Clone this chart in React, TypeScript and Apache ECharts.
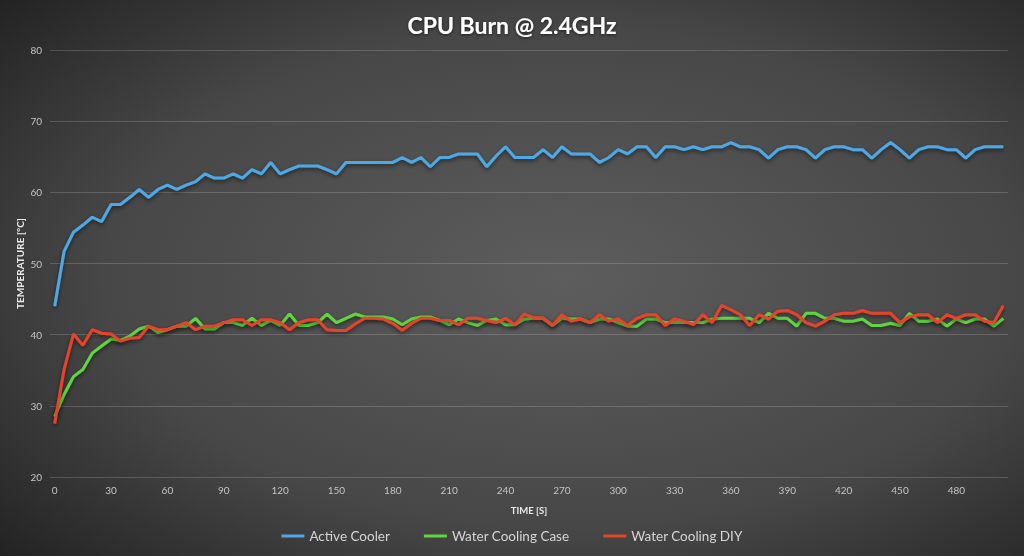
import React, { useEffect, useRef } from "react";
import * as echarts from "echarts";

const times: number[] = [
  0, 5, 10, 15, 20, 25, 30, 35, 40, 45, 50, 55, 60, 65, 70, 75, 80, 85, 90, 95,
  100, 105, 110, 115, 120, 125, 130, 135, 140, 145, 150, 155, 160, 165, 170, 175, 180, 185, 190, 195,
  200, 205, 210, 215, 220, 225, 230, 235, 240, 245, 250, 255, 260, 265, 270, 275, 280, 285, 290, 295,
  300, 305, 310, 315, 320, 325, 330, 335, 340, 345, 350, 355, 360, 365, 370, 375, 380, 385, 390, 395,
  400, 405, 410, 415, 420, 425, 430, 435, 440, 445, 450, 455, 460, 465, 470, 475, 480, 485, 490, 495,
  500, 505,
];

const activeCooler: number[] = [
  44.0, 51.7, 54.4, 55.4, 56.5, 55.9, 58.3, 58.3, 59.3, 60.4, 59.3, 60.4, 61.0, 60.4, 61.0, 61.5, 62.6, 62.0, 62.0, 62.6,
  62.0, 63.2, 62.6, 64.2, 62.6, 63.2, 63.7, 63.7, 63.7, 63.2, 62.6, 64.2, 64.2, 64.2, 64.2, 64.2, 64.2, 64.9, 64.2, 64.9,
  63.6, 64.9, 64.9, 65.4, 65.4, 65.4, 63.6, 65.1, 66.4, 64.9, 64.9, 64.9, 66.0, 64.9, 66.4, 65.4, 65.4, 65.4, 64.2, 64.9,
  66.0, 65.4, 66.4, 66.4, 64.9, 66.4, 66.4, 66.0, 66.4, 66.0, 66.4, 66.4, 67.0, 66.4, 66.4, 66.0, 64.8, 66.0, 66.4, 66.4,
  66.0, 64.8, 66.0, 66.4, 66.4, 66.0, 66.0, 64.8, 66.0, 67.0, 66.0, 64.8, 66.0, 66.4, 66.4, 66.0, 66.0, 64.8, 66.0, 66.4,
  66.4, 66.4,
];

const waterCoolingCase: number[] = [
  28.5, 31.6, 34.1, 35.1, 37.4, 38.4, 39.4, 39.2, 39.8, 40.8, 41.2, 40.3, 40.7, 41.2, 41.2, 42.3, 40.8, 40.8, 41.7, 41.7,
  41.3, 42.3, 41.3, 42.0, 41.3, 42.9, 41.3, 41.3, 41.7, 42.9, 41.7, 42.3, 42.9, 42.5, 42.5, 42.5, 42.2, 41.4, 42.2, 42.5,
  42.5, 42.0, 41.4, 42.2, 41.7, 41.3, 42.0, 42.2, 41.4, 41.4, 42.2, 42.3, 42.3, 41.3, 42.3, 42.2, 42.2, 41.7, 42.2, 42.2,
  41.7, 41.2, 41.2, 42.2, 42.2, 41.7, 41.7, 41.7, 41.7, 41.7, 42.2, 42.3, 42.3, 42.3, 42.3, 41.7, 43.0, 42.3, 42.3, 41.2,
  43.0, 43.0, 42.3, 42.3, 41.9, 41.9, 42.2, 41.3, 41.3, 41.6, 41.3, 43.0, 41.9, 41.9, 42.2, 41.2, 42.2, 41.7, 42.2, 42.2,
  41.2, 42.3,
];

const waterCoolingDIY: number[] = [
  27.5, 35.1, 40.1, 38.5, 40.7, 40.2, 40.1, 39.1, 39.5, 39.6, 41.2, 40.7, 40.7, 41.2, 41.7, 40.7, 41.2, 41.2, 41.7, 42.1,
  42.1, 41.3, 42.1, 42.1, 41.7, 40.7, 41.7, 42.1, 42.1, 40.7, 40.6, 40.6, 41.5, 42.3, 42.3, 42.2, 41.6, 40.6, 41.6, 42.3,
  42.3, 42.0, 42.0, 41.4, 42.3, 42.3, 42.0, 41.7, 42.3, 41.4, 42.9, 42.4, 42.3, 41.3, 42.8, 41.9, 42.2, 41.7, 42.8, 41.9,
  42.2, 41.3, 42.3, 42.8, 42.8, 41.3, 42.2, 41.9, 41.4, 42.8, 41.7, 44.1, 43.5, 42.8, 41.3, 42.8, 42.2, 43.3, 43.4, 42.8,
  41.7, 41.2, 41.9, 42.8, 43.0, 43.0, 43.4, 43.0, 43.0, 43.0, 41.7, 42.5, 42.8, 42.8, 41.7, 42.8, 42.3, 42.8, 42.8, 41.9,
  41.7, 44.1,
];

const seriesNames = ["Active Cooler", "Water Cooling Case", "Water Cooling DIY"];
const seriesColors = ["#4ea9e6", "#5ed63c", "#e8432a"];

const FONT = "Lato, 'Open Sans', sans-serif";

export default function App() {
  const ref = useRef<HTMLDivElement>(null);

  useEffect(() => {
    if (!ref.current) return;
    const chart = echarts.init(ref.current, undefined, { renderer: "svg" });
    const datasets = [activeCooler, waterCoolingCase, waterCoolingDIY];
    chart.setOption({
      animation: false,
      backgroundColor: {
        type: "radial",
        x: 0.55,
        y: 0.5,
        r: 0.75,
        colorStops: [
          { offset: 0, color: "#5d5d5d" },
          { offset: 0.6, color: "#474747" },
          { offset: 1, color: "#222222" },
        ],
      },
      title: {
        text: "CPU Burn @ 2.4GHz",
        left: "center",
        top: 8,
        textStyle: {
          color: "#ffffff",
          fontFamily: FONT,
          fontWeight: "bold",
          fontSize: 23,
          textShadowColor: "rgba(0,0,0,0.6)",
          textShadowBlur: 3,
          textShadowOffsetY: 1,
        },
      },
      legend: {
        bottom: 8,
        left: "center",
        icon: "rect",
        itemWidth: 23,
        itemHeight: 3,
        itemGap: 34,
        data: seriesNames,
        textStyle: { color: "#d4d4d4", fontFamily: FONT, fontSize: 13.5 },
      },
      grid: { left: 50, right: 16, top: 50, bottom: 79, containLabel: false },
      xAxis: {
        type: "category",
        data: times,
        boundaryGap: true,
        name: "TIME [S]",
        nameLocation: "middle",
        nameGap: 28,
        nameTextStyle: { color: "#e8e8e8", fontFamily: FONT, fontSize: 9.5, fontWeight: "bold" },
        axisLine: { show: false },
        axisTick: { show: false },
        axisLabel: {
          interval: 5,
          color: "#c4c4c4",
          fontFamily: FONT,
          fontSize: 10,
          margin: 8,
        },
        splitLine: { show: false },
      },
      yAxis: {
        type: "value",
        min: 20,
        max: 80,
        interval: 10,
        name: "TEMPERATURE [°C]",
        nameLocation: "middle",
        nameGap: 25,
        nameMoveOverlap: false,
        nameTextStyle: { color: "#e8e8e8", fontFamily: FONT, fontSize: 10, fontWeight: "bold" },
        axisLine: { show: false },
        axisTick: { show: false },
        axisLabel: { color: "#c4c4c4", fontFamily: FONT, fontSize: 10, margin: 8 },
        splitLine: { lineStyle: { color: "rgba(255,255,255,0.17)", width: 1 } },
      },
      series: datasets.map((d, i) => ({
        name: seriesNames[i],
        type: "line",
        data: d,
        symbol: "none",
        smooth: false,
        color: seriesColors[i],
        lineStyle: {
          width: 3,
          color: seriesColors[i],
          shadowColor: "rgba(0,0,0,0.55)",
          shadowBlur: 4,
          shadowOffsetY: 2,
        },
        z: 2 + i,
      })),
    });
    return () => chart.dispose();
  }, []);

  return (
    <div
      ref={ref}
      style={{ position: "fixed", left: 0, top: 0, width: 1024, height: 556 }}
    />
  );
}
